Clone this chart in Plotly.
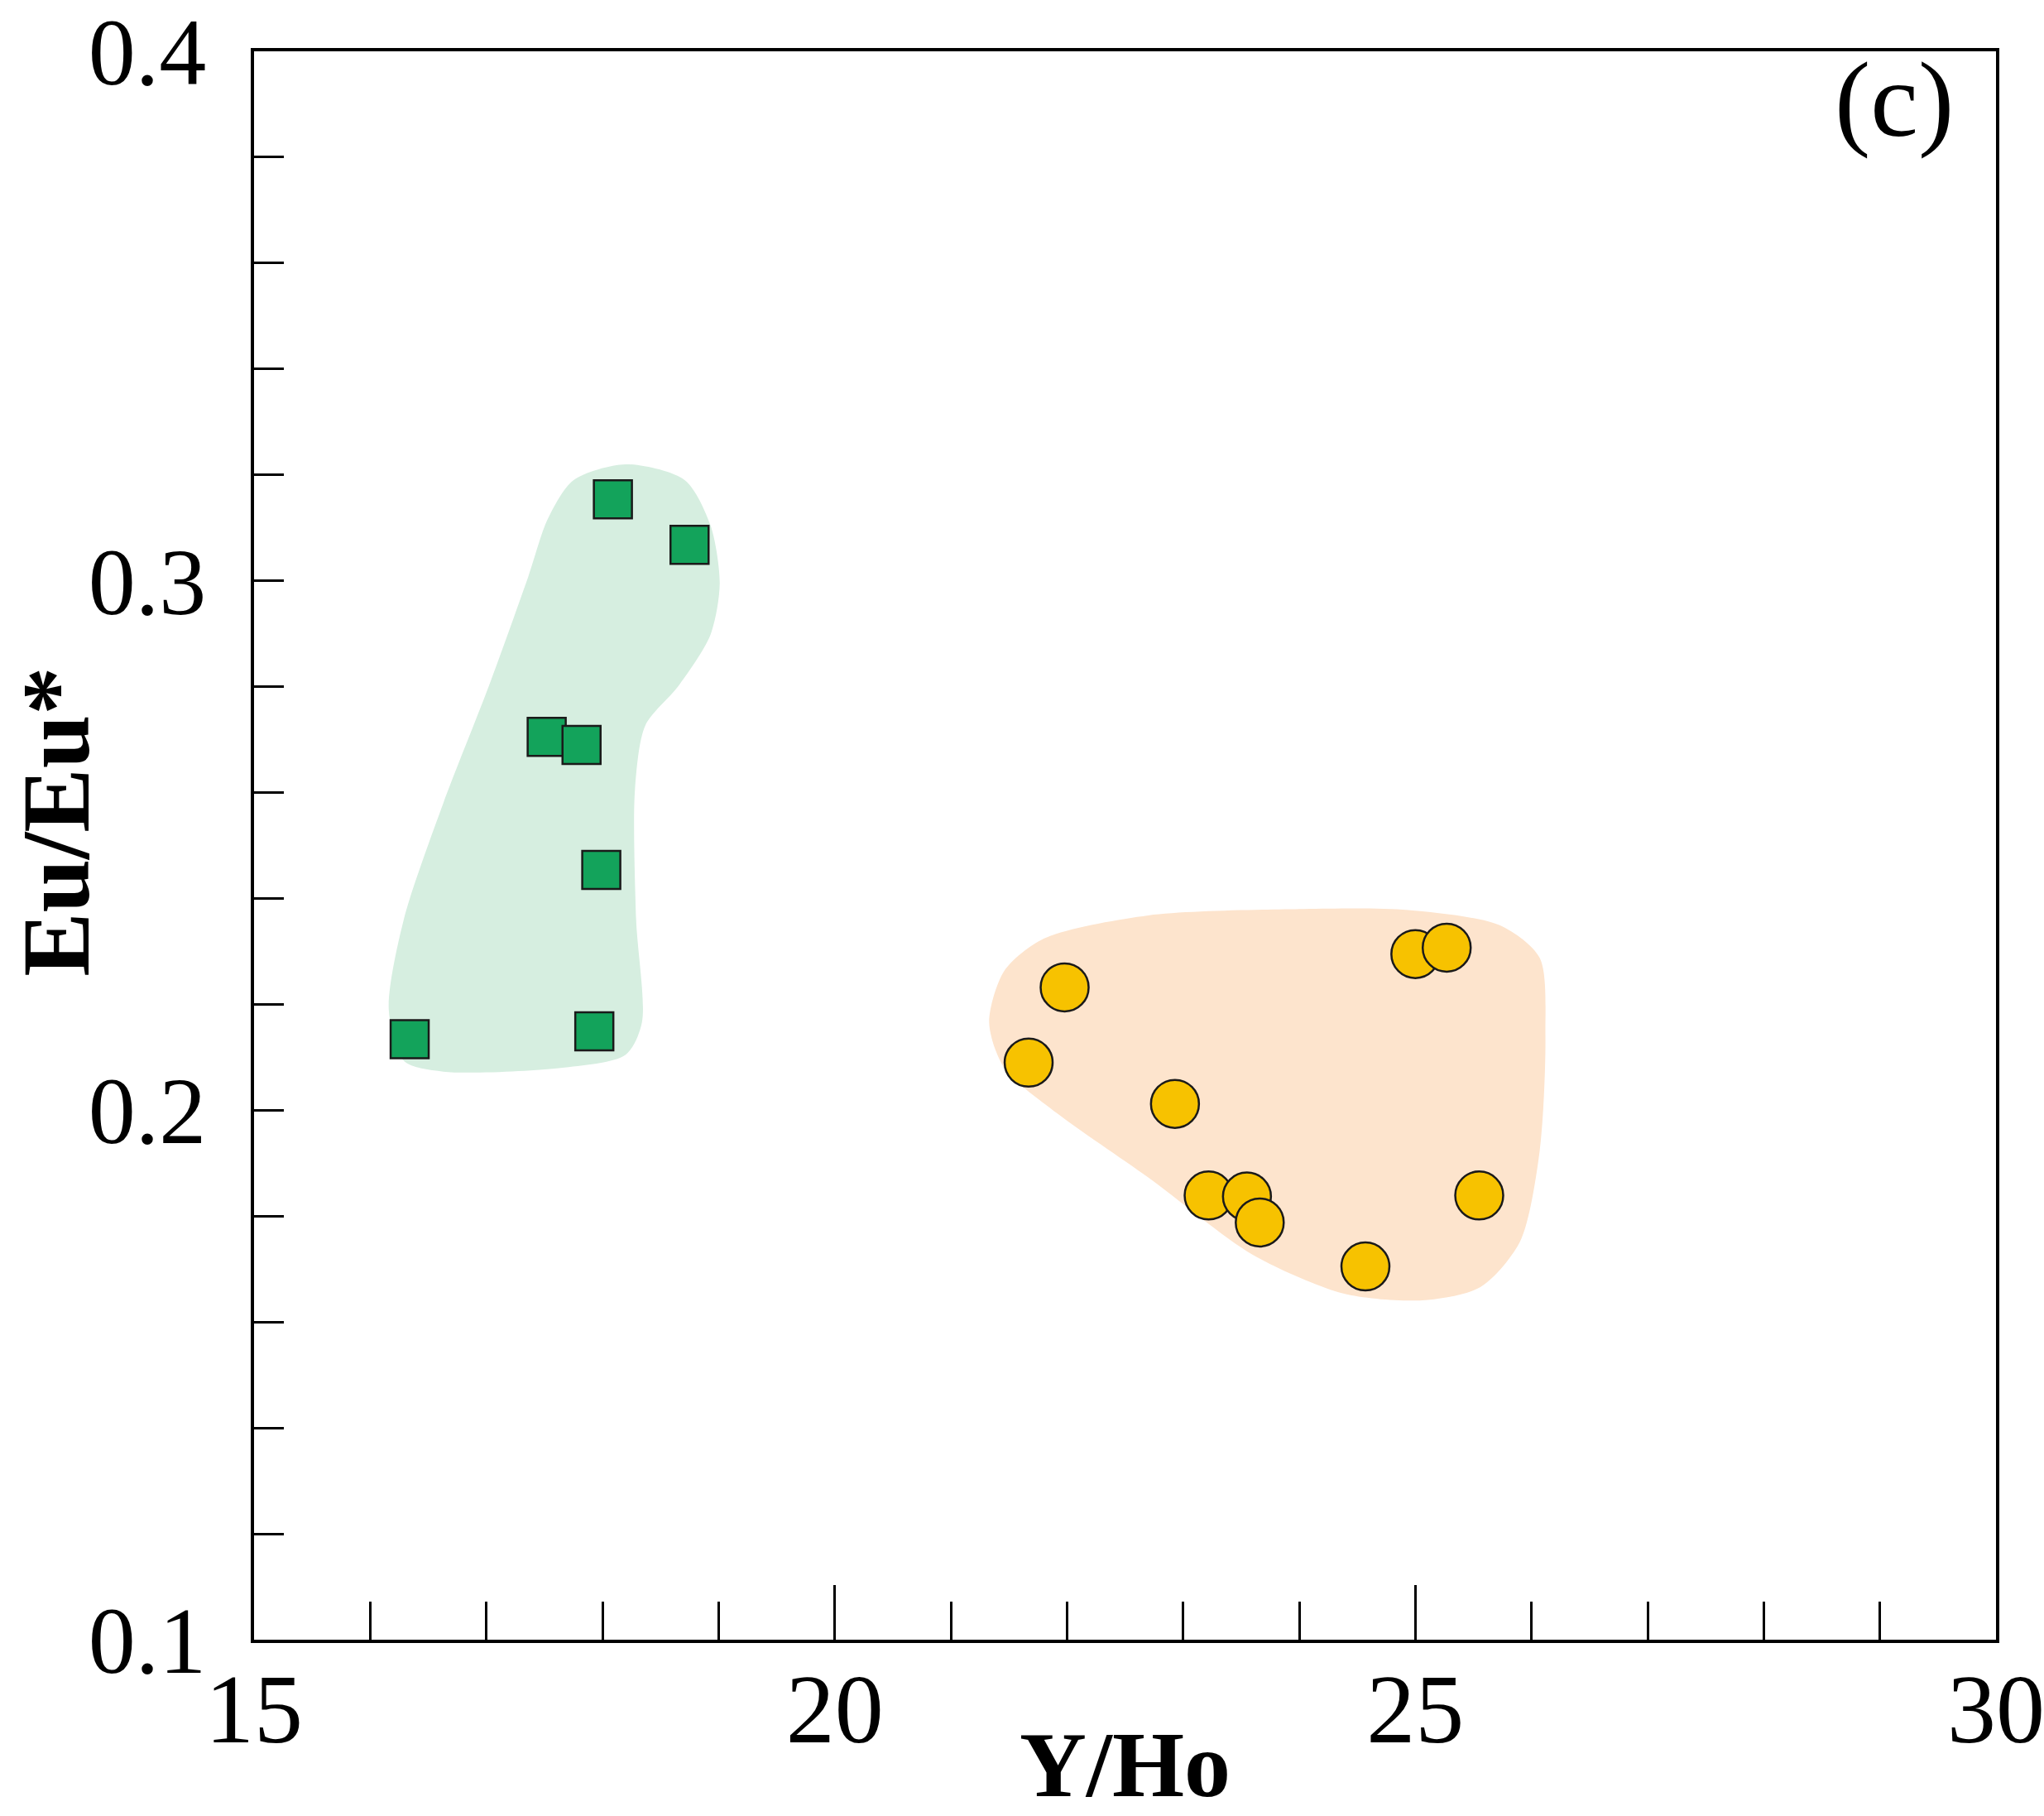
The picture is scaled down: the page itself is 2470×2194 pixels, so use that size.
import plotly.graph_objects as go

# ---- data ----
sq_x = [18.09, 18.75, 17.52, 17.82, 17.99, 16.34, 17.93]
sq_y = [0.3154, 0.3068, 0.2705, 0.2690, 0.2454, 0.2134, 0.2149]

ci_x = [21.98, 21.67, 22.93, 23.22, 23.55, 23.66, 24.57, 25.00, 25.27, 25.55]
ci_y = [0.2232, 0.2090, 0.2012, 0.1839, 0.1837, 0.1788, 0.1705, 0.2295, 0.2307, 0.1839]

green_reg_x = [18.20, 18.71, 18.93, 19.01, 18.93, 18.65, 18.37, 18.28, 18.29, 18.34, 18.20, 17.64,
               16.63, 16.29, 16.16, 16.29, 16.63, 17.02, 17.36, 17.53, 17.75, 18.20]
green_reg_y = [0.3220, 0.3190, 0.3105, 0.2995, 0.2898, 0.2800, 0.2727, 0.2605, 0.2361, 0.2166, 0.2105, 0.2080,
               0.2073, 0.2093, 0.2190, 0.2361, 0.2580, 0.2800, 0.3007, 0.3117, 0.3190, 0.3220]

orange_reg_x = [21.46, 21.80, 22.70, 24.04, 24.94, 25.73, 26.07, 26.12, 26.07, 25.90, 25.56, 25.06,
                24.38, 23.60, 22.70, 21.91, 21.46, 21.33, 21.46]
orange_reg_y = [0.2263, 0.2324, 0.2368, 0.2380, 0.2378, 0.2349, 0.2288, 0.2141, 0.1922, 0.1751, 0.1666, 0.1641,
                0.1654, 0.1727, 0.1873, 0.1995, 0.2080, 0.2166, 0.2263]

x_ticks = [15, 20, 25, 30]
y_ticks = [0.1, 0.2, 0.3, 0.4]
y_ticktext = ["0.1", "0.2", "0.3", "0.4"]
x_title = "Y/Ho"
y_title = "Eu/Eu*"
panel_label = "(c)"

FONT = "Liberation Serif"

fig = go.Figure()
fig.add_trace(go.Scatter(x=green_reg_x, y=green_reg_y, mode="lines", fill="toself",
                         fillcolor="#d6eee0", line=dict(width=0, shape="spline", smoothing=0.8),
                         hoverinfo="skip", showlegend=False))
fig.add_trace(go.Scatter(x=orange_reg_x, y=orange_reg_y, mode="lines", fill="toself",
                         fillcolor="#fde4cd", line=dict(width=0, shape="spline", smoothing=0.8),
                         hoverinfo="skip", showlegend=False))
fig.add_trace(go.Scatter(x=sq_x, y=sq_y, mode="markers", showlegend=False,
                         marker=dict(symbol="square", size=46, color="#13a35b",
                                     line=dict(color="#1a1a1a", width=2.5))))
fig.add_trace(go.Scatter(x=ci_x, y=ci_y, mode="markers", showlegend=False,
                         marker=dict(symbol="circle", size=58, color="#f7c200",
                                     line=dict(color="#1a1a1a", width=2.5))))

fig.update_xaxes(range=[15, 30], tickvals=x_ticks, ticktext=[str(v) for v in x_ticks],
                 ticks="inside", ticklen=66, tickwidth=3, tickcolor="black",
                 minor=dict(dtick=1, ticks="inside", ticklen=46, tickwidth=3, tickcolor="black"),
                 showline=True, linecolor="black", linewidth=4, mirror=True,
                 showgrid=False, zeroline=False, automargin=False, ticklabeloverflow="allow",
                 tickfont=dict(family=FONT, size=118, color="black"), ticklabelstandoff=-22,
                 title=dict(text="<b>" + x_title + "</b>", font=dict(family=FONT, size=112, color="black"),
                            standoff=0))
fig.update_yaxes(range=[0.1, 0.4], tickvals=y_ticks, ticktext=y_ticktext,
                 ticks="inside", ticklen=36, tickwidth=3, tickcolor="black",
                 minor=dict(dtick=0.02, ticks="inside", ticklen=36, tickwidth=3, tickcolor="black"),
                 showline=True, linecolor="black", linewidth=4, mirror=True,
                 showgrid=False, zeroline=False, automargin=False, ticklabeloverflow="allow",
                 tickfont=dict(family=FONT, size=114, color="black"), ticklabelstandoff=31)

# y-axis title (placed to match the reference, slightly above the plot centre)
fig.add_annotation(x=-0.1135, y=0.515, xref="paper", yref="paper", text="<b>" + y_title + "</b>",
                   textangle=-90, showarrow=False, font=dict(family=FONT, size=116, color="black"),
                   xanchor="center", yanchor="middle")

fig.add_annotation(x=0.9415, y=0.970, xref="paper", yref="paper", text=panel_label,
                   showarrow=False, font=dict(family=FONT, size=130, color="black"),
                   xanchor="center", yanchor="middle")

fig.update_layout(width=2470, height=2194, margin=dict(l=307, r=58, t=62, b=213),
                  paper_bgcolor="white", plot_bgcolor="white")

fig.write_html("out.html")
